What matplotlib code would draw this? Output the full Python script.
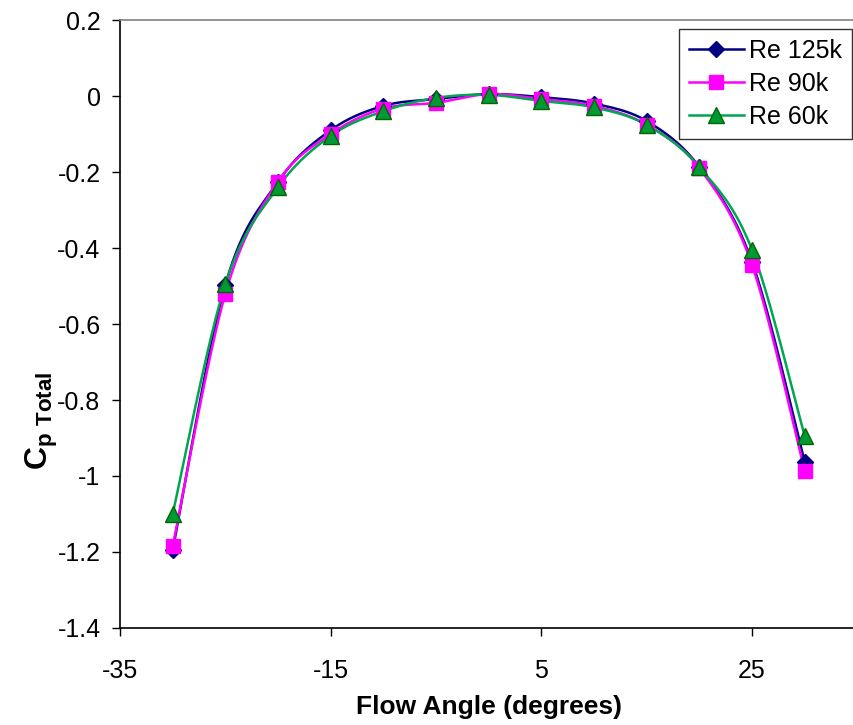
import numpy as np
import matplotlib
matplotlib.use("Agg")
import matplotlib.pyplot as plt
from matplotlib.lines import Line2D

plt.rcParams["font.family"] = ["Liberation Sans", "DejaVu Sans"]
plt.rcParams["axes.unicode_minus"] = False
plt.rcParams["mathtext.fontset"] = "custom"
plt.rcParams["mathtext.rm"] = "Liberation Sans"
plt.rcParams["mathtext.bf"] = "Liberation Sans:bold"

angle = [-30, -25, -20, -15, -10, -5, 0, 5, 10, 15, 20, 25, 30]
cp_125k = [-1.195, -0.497, -0.226, -0.090, -0.026, -0.008, 0.005, -0.003,
           -0.020, -0.066, -0.187, -0.437, -0.963]
cp_90k = [-1.185, -0.520, -0.226, -0.100, -0.033, -0.018, 0.005, -0.008,
          -0.026, -0.076, -0.190, -0.445, -0.987]
cp_60k = [-1.100, -0.495, -0.240, -0.105, -0.040, -0.005, 0.003, -0.013,
          -0.030, -0.076, -0.187, -0.405, -0.895]
labels = ["Re 125k", "Re 90k", "Re 60k"]


def smooth(x, y, n=30):
    # Excel-style smoothed line: cubic Bezier with Catmull-Rom control points
    p = np.column_stack([x, y]).astype(float)
    pp = np.vstack([p[0], p, p[-1]])
    out = []
    t = np.linspace(0, 1, n)[:, None]
    for i in range(len(p) - 1):
        p0, p1 = pp[i + 1], pp[i + 2]
        c1 = p0 + (pp[i + 2] - pp[i]) / 6
        c2 = p1 - (pp[i + 3] - pp[i + 1]) / 6
        seg = ((1 - t) ** 3) * p0 + 3 * ((1 - t) ** 2) * t * c1 \
            + 3 * (1 - t) * t ** 2 * c2 + t ** 3 * p1
        out.append(seg if i == 0 else seg[1:])
    s = np.vstack(out)
    return s[:, 0], s[:, 1]


styles = [
    dict(color="#000080", marker="D", mfc="#000080", mec="#000080", ms=8.5),
    dict(color="#FF00FF", marker="s", mfc="#FF00FF", mec="#FF00FF", ms=10.5),
    dict(color="#00A650", marker="^", mfc="#009933", mec="#006600", ms=11),
]

fig = plt.figure(figsize=(8.54, 7.25), dpi=100)
ax = fig.add_axes([0.1405, 0.1338, 0.8635, 0.8386])

handles = []
for ys, st, lab in zip([cp_125k, cp_90k, cp_60k], styles, labels):
    sx, sy = smooth(angle, ys)
    ax.plot(sx, sy, color=st["color"], lw=1.8, zorder=2)
    ax.plot(angle, ys, ls="none", marker=st["marker"], mfc=st["mfc"],
            mec=st["mec"], ms=st["ms"], mew=1, zorder=3)
    handles.append(Line2D([], [], color=st["color"], lw=1.8, marker=st["marker"],
                          mfc=st["mfc"], mec=st["mec"], ms=st["ms"], mew=1))

ax.set_xlim(-35, 35)
ax.set_ylim(-1.4, 0.2)
ax.set_xticks([-35, -15, 5, 25])
ax.set_yticks(np.arange(-1.4, 0.21, 0.2))
ax.set_yticklabels(["-1.4", "-1.2", "-1", "-0.8", "-0.6", "-0.4", "-0.2", "0", "0.2"])
ax.tick_params(labelsize=18, direction="out", length=6, width=1)
ax.tick_params(axis="x", pad=16)
ax.tick_params(axis="y", pad=8)

for s in ["left", "bottom"]:
    ax.spines[s].set_color("black")
    ax.spines[s].set_linewidth(1.2)
for s in ["top", "right"]:
    ax.spines[s].set_color("#808080")
    ax.spines[s].set_linewidth(1.2)

ax.set_xlabel("Flow Angle (degrees)", fontsize=19, fontweight="bold", labelpad=9)
ax.set_ylabel(r"$\mathbf{C}_{\mathbf{p\ Total}}$", fontsize=23)
ax.yaxis.set_label_coords(-0.082, 0.34)

leg = ax.legend(handles, labels, loc="upper right", bbox_to_anchor=(0.992, 0.985),
                fontsize=18, frameon=True, fancybox=False, edgecolor="black",
                handlelength=2.2, borderpad=0.4, labelspacing=0.35, handletextpad=0.2,
                borderaxespad=0)
leg.get_frame().set_linewidth(1)

fig.savefig("out.png", dpi=100)
